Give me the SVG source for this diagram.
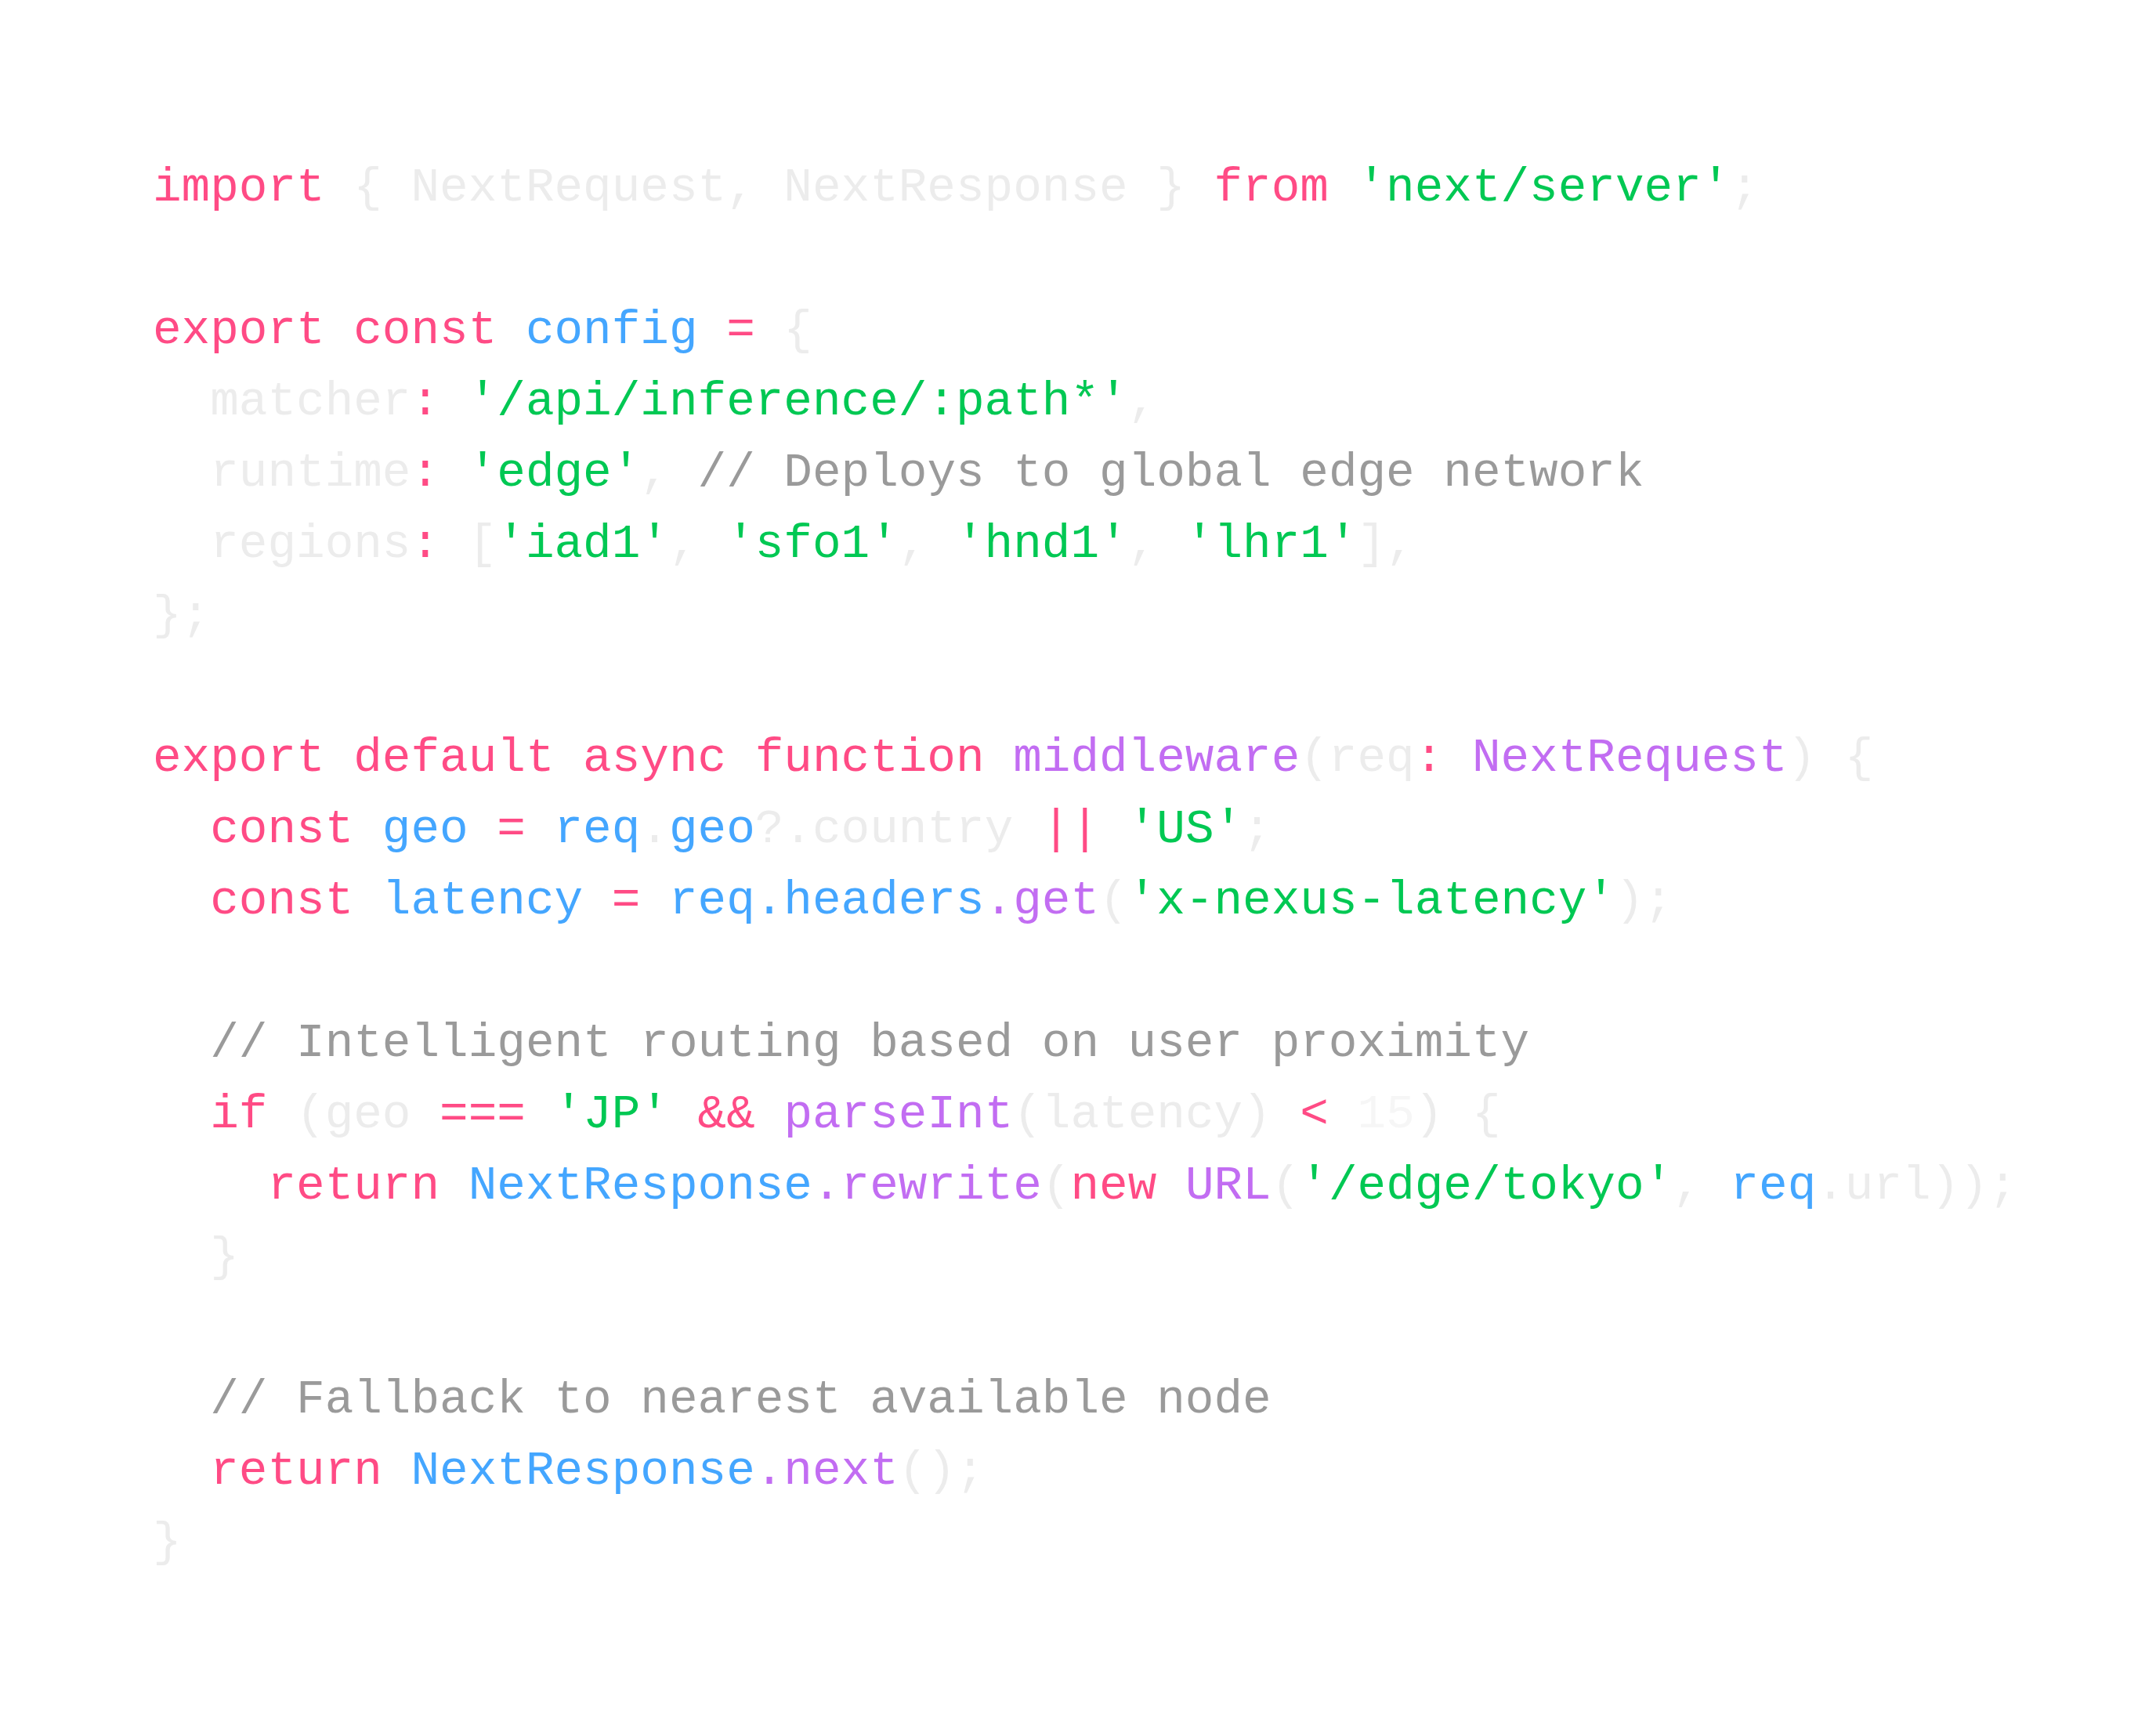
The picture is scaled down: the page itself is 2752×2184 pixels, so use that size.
<svg xmlns="http://www.w3.org/2000/svg" width="2752" height="2184" viewBox="0 0 2752 2184">
<style>
text{font-family:"Liberation Mono","DejaVu Sans Mono",monospace;font-size:61px;white-space:pre}
.k{fill:#ff4b85}.s{fill:#00c853}.b{fill:#44a6ff}.p{fill:#c26df2}.c{fill:#9a9a9a}.f{fill:#ececec}.ff{fill:#f6f6f6}
</style>
<rect width="2752" height="2184" fill="#ffffff"/>
<g id="code" xml:space="preserve">
<text x="195" y="256"><tspan class="k">import</tspan><tspan class="f"> { NextRequest, NextResponse } </tspan><tspan class="k">from</tspan> <tspan class="s">'next/server'</tspan><tspan class="f">;</tspan></text>
<text x="195" y="438"><tspan class="k">export const</tspan> <tspan class="b">config</tspan> <tspan class="k">=</tspan> <tspan class="f">{</tspan></text>
<text x="195" y="529"><tspan class="f">  matcher</tspan><tspan class="k">:</tspan> <tspan class="s">'/api/inference/:path*'</tspan><tspan class="f">,</tspan></text>
<text x="195" y="620"><tspan class="f">  runtime</tspan><tspan class="k">:</tspan> <tspan class="s">'edge'</tspan><tspan class="f">,</tspan> <tspan class="c">// Deploys to global edge network</tspan></text>
<text x="195" y="711"><tspan class="f">  regions</tspan><tspan class="k">:</tspan> <tspan class="f">[</tspan><tspan class="s">'iad1'</tspan><tspan class="f">, </tspan><tspan class="s">'sfo1'</tspan><tspan class="f">, </tspan><tspan class="s">'hnd1'</tspan><tspan class="f">, </tspan><tspan class="s">'lhr1'</tspan><tspan class="f">],</tspan></text>
<text x="195" y="802"><tspan class="f">};</tspan></text>
<text x="195" y="984"><tspan class="k">export default async function</tspan> <tspan class="p">middleware</tspan><tspan class="f">(req</tspan><tspan class="k">:</tspan> <tspan class="p">NextRequest</tspan><tspan class="f">) {</tspan></text>
<text x="195" y="1075"><tspan>  </tspan><tspan class="k">const</tspan> <tspan class="b">geo</tspan> <tspan class="k">=</tspan> <tspan class="b">req</tspan><tspan class="f">.</tspan><tspan class="b">geo</tspan><tspan class="f">?.country</tspan> <tspan class="k">||</tspan> <tspan class="s">'US'</tspan><tspan class="f">;</tspan></text>
<text x="195" y="1166"><tspan>  </tspan><tspan class="k">const</tspan> <tspan class="b">latency</tspan> <tspan class="k">=</tspan> <tspan class="b">req.headers</tspan><tspan class="p">.get</tspan><tspan class="f">(</tspan><tspan class="s">'x-nexus-latency'</tspan><tspan class="f">);</tspan></text>
<text x="195" y="1348"><tspan class="c">  // Intelligent routing based on user proximity</tspan></text>
<text x="195" y="1439"><tspan>  </tspan><tspan class="k">if</tspan> <tspan class="f">(geo</tspan> <tspan class="k">===</tspan> <tspan class="s">'JP'</tspan> <tspan class="k">&amp;&amp;</tspan> <tspan class="p">parseInt</tspan><tspan class="f">(latency)</tspan> <tspan class="k">&lt;</tspan> <tspan class="ff">15</tspan><tspan class="f">) {</tspan></text>
<text x="195" y="1530"><tspan>    </tspan><tspan class="k">return</tspan> <tspan class="b">NextResponse</tspan><tspan class="p">.rewrite</tspan><tspan class="f">(</tspan><tspan class="k">new</tspan> <tspan class="p">URL</tspan><tspan class="f">(</tspan><tspan class="s">'/edge/tokyo'</tspan><tspan class="f">, </tspan><tspan class="b">req</tspan><tspan class="f">.url));</tspan></text>
<text x="195" y="1621"><tspan class="f">  }</tspan></text>
<text x="195" y="1803"><tspan class="c">  // Fallback to nearest available node</tspan></text>
<text x="195" y="1894"><tspan>  </tspan><tspan class="k">return</tspan> <tspan class="b">NextResponse</tspan><tspan class="p">.next</tspan><tspan class="f">();</tspan></text>
<text x="195" y="1985"><tspan class="f">}</tspan></text>
</g>
</svg>
